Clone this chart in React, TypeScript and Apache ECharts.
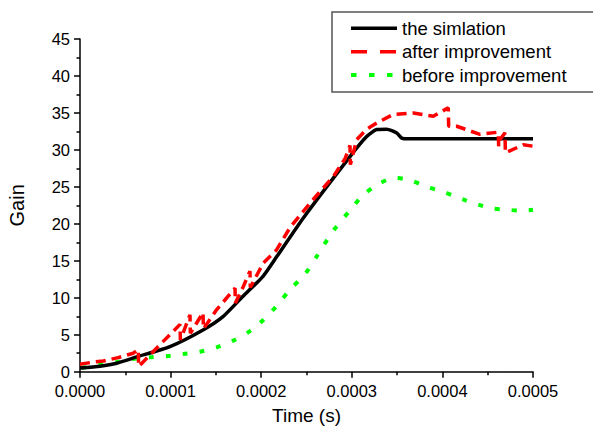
import React, { useEffect, useRef } from "react";
import * as echarts from "echarts";

const FONT = "'Liberation Sans', Arial, sans-serif";

const xTicks = [0, 0.0001, 0.0002, 0.0003, 0.0004, 0.0005];
const yTicks = [0, 5, 10, 15, 20, 25, 30, 35, 40, 45];

const seriesNames = ["the simlation", "after improvement", "before improvement"];

const simTime = [0, 0.0000221, 0.0000405, 0.0000626, 0.0000993, 0.0001358, 0.0001578, 0.0001799, 0.000202, 0.0002174, 0.0002465, 0.000298, 0.0003164, 0.0003275, 0.0003385, 0.0003496, 0.0003551, 0.0003642, 0.0005];
const simGain = [0.5, 0.75, 1.15, 2.0, 3.4, 5.65, 7.45, 10.2, 12.9, 15.6, 20.8, 29.1, 31.8, 32.75, 32.8, 32.3, 31.6, 31.5, 31.5];

const afterTime = [0, 0.0000143, 0.0000257, 0.0000419, 0.0000588, 0.0000643, 0.0000647, 0.0000919, 0.0001104, 0.0001108, 0.0001214, 0.0001218, 0.0001358, 0.0001362, 0.0001509, 0.0001711, 0.0001715, 0.0001802, 0.0001876, 0.000188, 0.0002023, 0.0002171, 0.0002318, 0.0002539, 0.0002796, 0.0002925, 0.000298, 0.0002984, 0.0003054, 0.0003164, 0.0003275, 0.0003458, 0.0003679, 0.00039, 0.0004065, 0.0004069, 0.0004158, 0.0004415, 0.0004617, 0.0004621, 0.0004636, 0.0004691, 0.0004695, 0.0004893, 0.0005];
const afterGain = [1.0, 1.3, 1.45, 1.9, 2.5, 3.0, 0.7, 4.1, 6.4, 4.3, 7.7, 5.2, 8.0, 5.8, 8.4, 11.3, 9.3, 11.5, 13.6, 11.4, 14.7, 16.5, 19.5, 22.8, 26.4, 28.8, 30.6, 28.0, 31.4, 32.8, 33.65, 34.8, 35.0, 34.55, 35.7, 33.2, 33.2, 32.1, 32.4, 30.5, 31.4, 32.3, 29.6, 30.7, 30.5];

const beforeTime = [0.0000019, 0.0000202, 0.0000405, 0.0000571, 0.0000773, 0.0000957, 0.000114, 0.0001325, 0.0001509, 0.0001692, 0.0001876, 0.0002023, 0.0002171, 0.0002318, 0.0002483, 0.0002613, 0.0002793, 0.0002999, 0.0003127, 0.0003311, 0.0003477, 0.0003642, 0.0003827, 0.0003992, 0.0004103, 0.0004249, 0.0004396, 0.0004544, 0.000471, 0.0004875, 0.0005];
const beforeGain = [0.5, 0.9, 1.3, 1.7, 1.95, 2.1, 2.4, 2.7, 3.3, 4.2, 5.5, 7.0, 8.9, 11.1, 13.2, 15.6, 19.0, 22.1, 23.9, 25.5, 26.2, 25.9, 25.0, 24.4, 23.9, 23.2, 22.6, 22.1, 21.9, 21.8, 21.9];

const zip = (a: number[], b: number[]) => a.map((t, i) => [t, b[i]]);

export default function App() {
  const ref = useRef<HTMLDivElement>(null);
  useEffect(() => {
    if (!ref.current) return;
    const chart = echarts.init(ref.current, null, { renderer: "svg" });
    const legendRows = [28.3, 51.7, 75];
    const legendStyles = [
      { stroke: "#000000", lineWidth: 3.5 },
      { stroke: "#ff0000", lineWidth: 3.5, lineDash: [16, 13] },
      { stroke: "#00ff00", lineWidth: 4, lineDash: [5.5, 12.5] },
    ];
    const legendEls: any[] = [
      {
        type: "rect",
        shape: { x: 332, y: 12, width: 300, height: 80 },
        style: { fill: "#ffffff", stroke: "#555555", lineWidth: 1.5 },
        z: 10,
      },
    ];
    seriesNames.forEach((name, i) => {
      legendEls.push({
        type: "line",
        shape: { x1: 351, y1: legendRows[i], x2: 397, y2: legendRows[i] },
        style: legendStyles[i],
        z: 11,
      });
      legendEls.push({
        type: "text",
        x: 402,
        y: legendRows[i],
        style: {
          text: name,
          fontSize: 18.5,
          fontFamily: FONT,
          fill: "#000000",
          align: "left",
          verticalAlign: "middle",
          textAlign: "left",
          textVerticalAlign: "middle",
        },
        z: 11,
      });
    });

    chart.setOption({
      animation: false,
      backgroundColor: "#ffffff",
      grid: { left: 80, right: 60, top: 39, bottom: 55.3, containLabel: false, outerBoundsMode: "none" },
      xAxis: {
        type: "value",
        min: xTicks[0],
        max: xTicks[xTicks.length - 1],
        interval: 0.0001,
        name: "Time (s)",
        nameLocation: "middle",
        nameGap: 34,
        nameTextStyle: { fontSize: 19, fontFamily: FONT, color: "#000" },
        axisLine: { show: true, onZero: false, lineStyle: { color: "#000", width: 1.5 } },
        axisTick: { show: true, inside: false, length: 6, lineStyle: { color: "#000", width: 1.5 } },
        minorTick: { show: true, splitNumber: 2, length: 3.5, lineStyle: { color: "#000", width: 1.5 } },
        axisLabel: {
          fontSize: 16.5,
          fontFamily: FONT,
          color: "#000",
          margin: 11,
          formatter: (v: number) => v.toFixed(4),
        },
        splitLine: { show: false },
      },
      yAxis: {
        type: "value",
        min: yTicks[0],
        max: yTicks[yTicks.length - 1],
        interval: 5,
        name: "Gain",
        nameLocation: "middle",
        nameGap: 53,
        nameTextStyle: { fontSize: 20, fontFamily: FONT, color: "#000" },
        axisLine: { show: true, onZero: false, lineStyle: { color: "#000", width: 1.5 } },
        axisTick: { show: true, inside: false, length: 6, lineStyle: { color: "#000", width: 1.5 } },
        minorTick: { show: true, splitNumber: 2, length: 3.5, lineStyle: { color: "#000", width: 1.5 } },
        axisLabel: { fontSize: 16.5, fontFamily: FONT, color: "#000", margin: 10 },
        splitLine: { show: false },
      },
      series: [
        {
          name: seriesNames[2],
          type: "line",
          data: zip(beforeTime, beforeGain),
          showSymbol: false,
          smooth: 0.3,
          lineStyle: { color: "#00ff00", width: 4, type: [5, 12] },
          z: 2,
        },
        {
          name: seriesNames[0],
          type: "line",
          data: zip(simTime, simGain),
          showSymbol: false,
          smooth: 0.2,
          lineStyle: { color: "#000000", width: 3.5 },
          z: 3,
        },
        {
          name: seriesNames[1],
          type: "line",
          data: zip(afterTime, afterGain),
          showSymbol: false,
          lineStyle: { color: "#ff0000", width: 3.5, type: [10, 6] },
          z: 4,
        },
      ],
      graphic: legendEls,
    });
    return () => chart.dispose();
  }, []);
  return (
    <div
      ref={ref}
      style={{ position: "fixed", left: 0, top: 0, width: 593, height: 427 }}
    />
  );
}
